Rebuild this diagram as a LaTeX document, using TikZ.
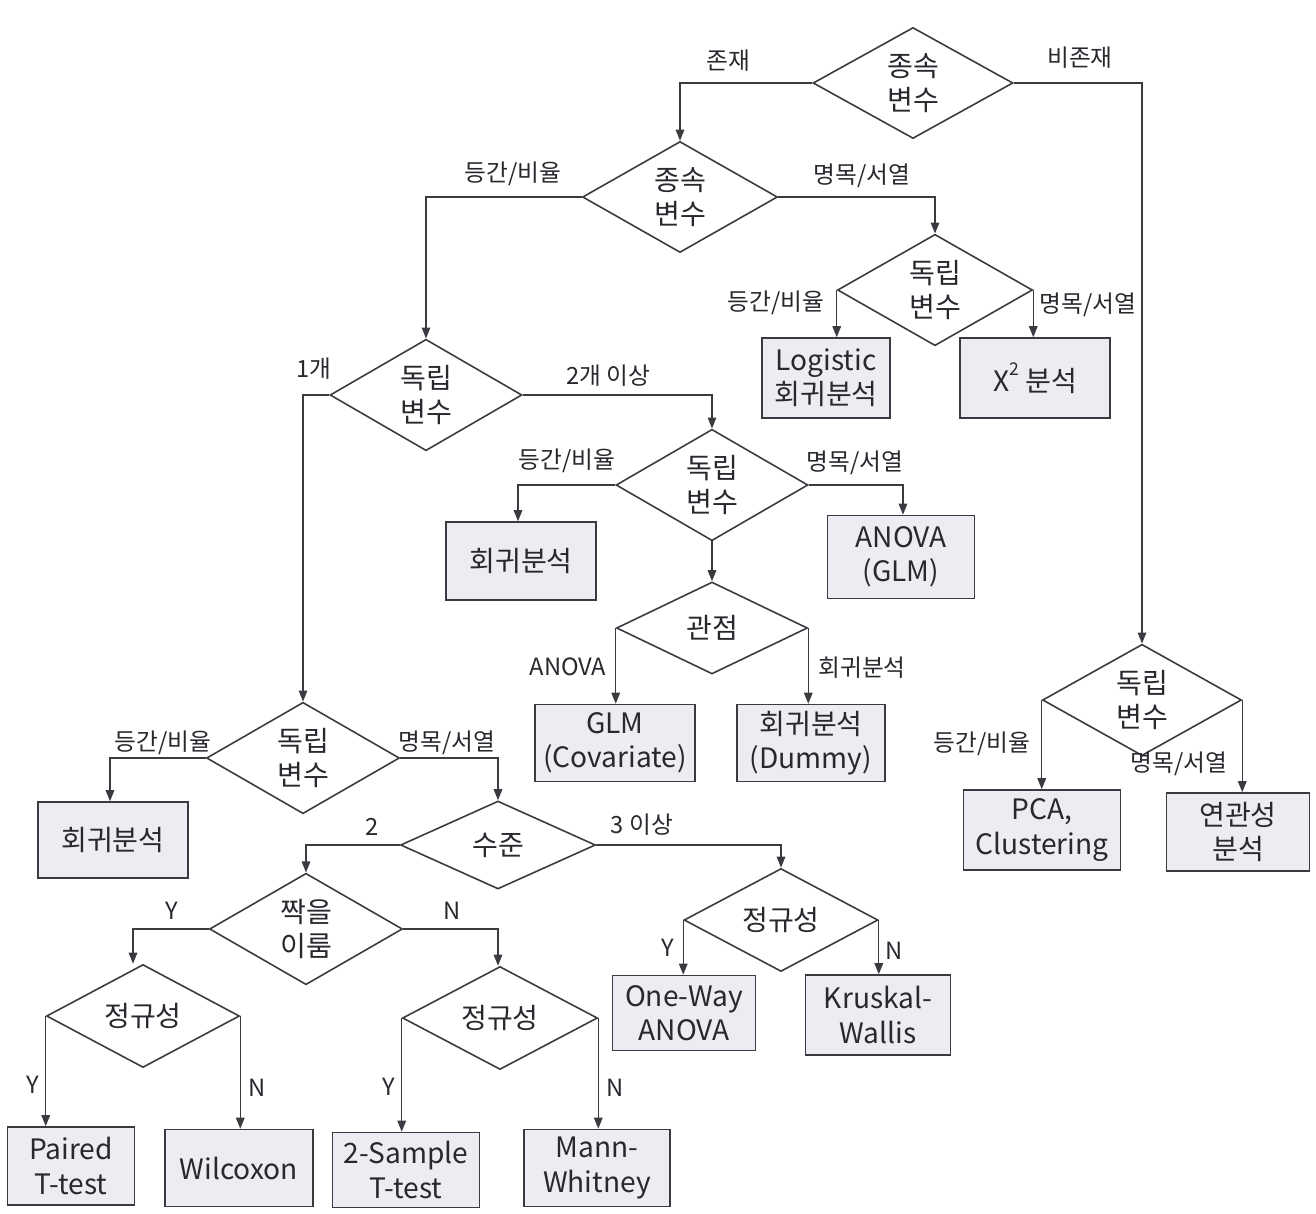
\documentclass[tikz,border=0pt]{standalone}
\usepackage{fontspec}
\setmainfont{Noto Sans CJK KR}
\usetikzlibrary{shapes.geometric,arrows.meta}
\definecolor{ln}{HTML}{3C3A40}
\definecolor{bx}{HTML}{ECECF2}
\definecolor{tx}{HTML}{2A282E}
\tikzset{
  dia/.style={shape=diamond, draw=ln, line width=0.9pt, fill=white, inner sep=0pt,
    minimum width=3.9cm, minimum height=1.84cm, align=center, text=tx,
    font=\fontsize{16}{19.5}\selectfont},
  bx/.style={draw=ln, line width=0.9pt, fill=bx, inner sep=0pt, align=center, text=tx,
    font=\fontsize{16}{19.5}\selectfont},
  lbl/.style={inner sep=0pt, text=tx, font=\fontsize{13.5}{16}\selectfont},
  arr/.style={draw=ln, line width=0.8pt, -{Triangle[length=2.2mm,width=1.7mm]}},
  ln0/.style={draw=ln, line width=0.8pt}
}
\begin{document}
\begin{tikzpicture}[x=0.02cm,y=-0.02cm]
\useasboundingbox[fill=white] (0,0) rectangle (1316,1214);
% diamonds
\node[dia, minimum width=4.0cm, minimum height=1.76cm] (d1) at (913,83) {종속\\변수};
\node[dia] (d2) at (680,197) {종속\\변수};
\node[dia, minimum height=1.8cm] (d4) at (935,290) {독립\\변수};
\node[dia, minimum width=3.84cm, minimum height=1.88cm] (d3) at (426,395) {독립\\변수};
\node[dia, minimum width=3.84cm, minimum height=1.8cm] (d5) at (712,485) {독립\\변수};
\node[dia, minimum width=3.82cm, minimum height=1.84cm] (d6) at (712,628) {관점};
\node[dia, minimum width=3.86cm, minimum height=1.9cm] (d7) at (303,758) {독립\\변수};
\node[dia, minimum height=1.76cm] (d8) at (498,845) {수준};
\node[dia, minimum width=3.86cm, minimum height=1.66cm] (d9) at (306,929) {짝을\\이룸};
\node[dia, minimum width=3.88cm, minimum height=1.7cm] (d10) at (781,920) {정규성};
\node[dia, minimum width=3.86cm, minimum height=1.84cm] (d11) at (143,1016) {정규성};
\node[dia, minimum height=1.74cm] (d12) at (500,1018) {정규성};
\node[dia, minimum width=3.98cm, minimum height=1.74cm] (d13) at (1142,700) {독립\\변수};
% boxes
\node[bx, minimum width=2.56cm, minimum height=1.6cm] (b1) at (826,378) {Logistic\\회귀분석};
\node[bx, minimum width=3.0cm, minimum height=1.6cm] (b2) at (1035,378) {X{\raisebox{0.55em}{\fontsize{10}{10}\selectfont 2}} 분석};
\node[bx, minimum width=3.0cm, minimum height=1.56cm] (b3) at (521,561) {회귀분석};
\node[bx, minimum width=2.94cm, minimum height=1.66cm] (b4) at (901,557) {ANOVA\\(GLM)};
\node[bx, minimum width=3.2cm, minimum height=1.54cm] (b5) at (615,743) {GLM\\(Covariate)};
\node[bx, minimum width=2.96cm, minimum height=1.54cm] (b6) at (811,743) {회귀분석\\(Dummy)};
\node[bx, minimum width=3.0cm, minimum height=1.52cm] (b7) at (113,840) {회귀분석};
\node[bx, minimum width=2.86cm, minimum height=1.5cm] (b8) at (684,1013) {One-Way\\ANOVA};
\node[bx, minimum width=2.9cm, minimum height=1.6cm] (b9) at (878,1015) {Kruskal-\\Wallis};
\node[bx, minimum width=2.54cm, minimum height=1.56cm] (b10) at (71,1166) {Paired\\T-test};
\node[bx, minimum width=2.96cm, minimum height=1.54cm] (b11) at (239,1168) {Wilcoxon};
\node[bx, minimum width=2.94cm, minimum height=1.5cm] (b12) at (406,1170) {2-Sample\\T-test};
\node[bx, minimum width=2.92cm, minimum height=1.54cm] (b13) at (597,1168) {Mann-\\Whitney};
\node[bx, minimum width=3.14cm, minimum height=1.6cm] (b14) at (1042,830) {PCA,\\Clustering};
\node[bx, minimum width=2.86cm, minimum height=1.56cm] (b15) at (1238,832) {연관성\\분석};
% connectors
\draw[arr] (d1.west) -| (d2.north);
\draw[arr] (d1.east) -| (d13.north);
\draw[arr] (d2.west) -| (d3.north);
\draw[arr] (d2.east) -| (d4.north);
\draw[arr] (d4.west) -- (d4.west |- b1.north);
\draw[arr] (d4.east) -- (d4.east |- b2.north);
\draw[arr] (d3.west) -| (d7.north);
\draw[arr] (d3.east) -| (d5.north);
\draw[arr] (d5.west) -| ([xshift=-3*0.02cm]b3.north);
\draw[arr] (d5.east) -| ([xshift=2*0.02cm]b4.north);
\draw[arr] (d5.south) -- (d6.north);
\draw[arr] (d6.west) -- (d6.west |- b5.north);
\draw[arr] (d6.east) -- (d6.east |- b6.north);
\draw[arr] (d7.west) -| ([xshift=-3*0.02cm]b7.north);
\draw[arr] (d7.east) -| (d8.north);
\draw[arr] (d8.west) -| (d9.north);
\draw[arr] (d8.east) -| (d10.north);
\draw[arr] (d9.west) -| ([xshift=-10*0.02cm]d11.north);
\draw[arr] (d9.east) -| ([xshift=-2*0.02cm]d12.north);
\draw[arr] (d10.west) -- (d10.west |- b8.north);
\draw[arr] (d10.east) -- (d10.east |- b9.north);
\draw[arr] (d11.west) -- (d11.west |- b10.north);
\draw[arr] (d11.east) -- (d11.east |- b11.north);
\draw[arr] (d12.west) -- (d12.west |- b12.north);
\draw[arr] (d12.east) -- (d12.east |- b13.north);
\draw[arr] (d13.west) -- (d13.west |- b14.north);
\draw[arr] (d13.east) -- (d13.east |- b15.north);
% labels
\node[lbl] (l1) at (728,61) {존재};
\node[lbl] (l2) at (1080,58) {비존재};
\node[lbl] (l3) at (513,174) {등간/비율};
\node[lbl] (l4) at (862,176) {명목/서열};
\node[lbl] (l5) at (776,303) {등간/비율};
\node[lbl] (l6) at (1088,305) {명목/서열};
\node[lbl] (l7) at (314,369) {1개};
\node[lbl] (l8) at (608,376) {2개 이상};
\node[lbl] (l9) at (567,461) {등간/비율};
\node[lbl] (l10) at (855,463) {명목/서열};
\node[lbl] (l11) at (568,667) {ANOVA};
\node[lbl] (l12) at (862,668) {회귀분석};
\node[lbl] (l13) at (163,743) {등간/비율};
\node[lbl] (l14) at (447,743) {명목/서열};
\node[lbl] (l15) at (372,827) {2};
\node[lbl] (l16) at (642,825) {3 이상};
\node[lbl] (l17) at (172,911) {Y};
\node[lbl] (l18) at (452,911) {N};
\node[lbl] (l19) at (668,948) {Y};
\node[lbl] (l20) at (894,951) {N};
\node[lbl] (l21) at (33,1085) {Y};
\node[lbl] (l22) at (257,1088) {N};
\node[lbl] (l23) at (389,1087) {Y};
\node[lbl] (l24) at (615,1088) {N};
\node[lbl] (l25) at (982,744) {등간/비율};
\node[lbl] (l26) at (1179,764) {명목/서열};
\end{tikzpicture}
\end{document}
